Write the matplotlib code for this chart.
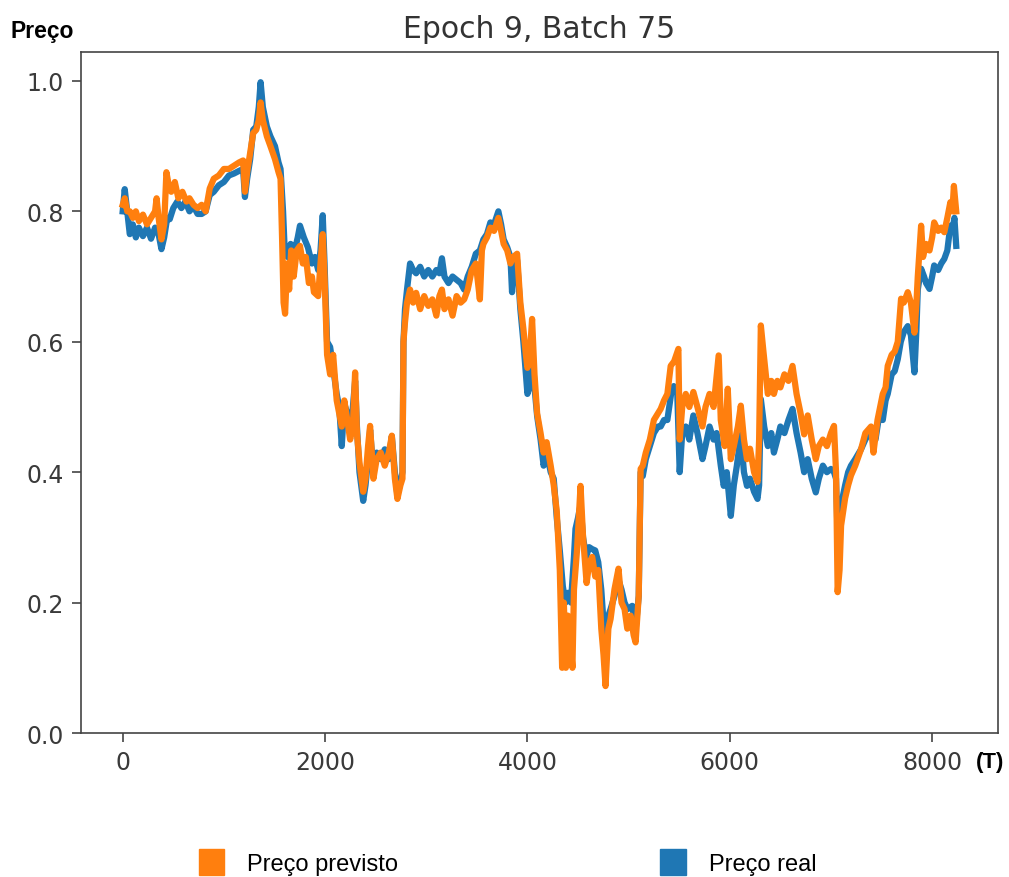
import matplotlib
matplotlib.use('Agg')
import matplotlib.pyplot as plt
from matplotlib.patches import Patch

# series values (T, price)
t_real = [0, 20, 45, 70, 100, 130, 160, 200, 240, 280, 320, 355, 383, 410, 440, 465,
          500, 540, 580, 620, 660, 700, 740, 780, 820, 860, 900, 950, 1000, 1050, 1100,
          1150, 1190, 1208, 1230, 1260, 1290, 1320, 1345, 1363, 1385, 1425, 1460, 1505,
          1540, 1560, 1585, 1600, 1630, 1660, 1700, 1730, 1752, 1790, 1830, 1870, 1900,
          1932, 1955, 1977, 1995, 2020, 2050, 2080, 2115, 2140, 2165, 2190, 2220, 2248,
          2275, 2297, 2315, 2340, 2377, 2400, 2425, 2445, 2478, 2510, 2550, 2590, 2630,
          2660, 2690, 2715, 2745, 2765, 2775, 2790, 2810, 2840, 2870, 2900, 2940, 2980,
          3020, 3060, 3100, 3130, 3155, 3180, 3220, 3260, 3300, 3340, 3375, 3410, 3450,
          3490, 3530, 3565, 3600, 3634, 3670, 3713, 3740, 3765, 3800, 3832, 3848, 3870,
          3898, 3930, 3960, 3985, 4000, 4020, 4046, 4070, 4096, 4130, 4160, 4190, 4230,
          4260, 4290, 4320, 4350, 4376, 4400, 4430, 4460, 4475, 4500, 4525, 4550, 4580,
          4610, 4640, 4670, 4700, 4730, 4752, 4780, 4800, 4822, 4860, 4900, 4930, 4960,
          4990, 5036, 5070, 5100, 5119, 5140, 5170, 5210, 5250, 5290, 5317, 5350, 5383,
          5420, 5446, 5480, 5505, 5530, 5565, 5600, 5640, 5680, 5730, 5760, 5800, 5840,
          5870, 5911, 5940, 5970, 6010, 6040, 6070, 6109, 6140, 6170, 6200, 6240, 6274,
          6290, 6307, 6340, 6376, 6410, 6436, 6470, 6500, 6540, 6580, 6620, 6660, 6700,
          6735, 6770, 6810, 6850, 6880, 6920, 6960, 7000, 7030, 7050, 7066, 7085, 7100,
          7140, 7170, 7198, 7240, 7297, 7340, 7396, 7440, 7480, 7512, 7540, 7561, 7600,
          7630, 7660, 7690, 7720, 7759, 7790, 7825, 7845, 7858, 7891, 7920, 7940, 7974,
          8000, 8020, 8060, 8090, 8120, 8150, 8180, 8200, 8220, 8238]
real = [0.80, 0.834, 0.80, 0.765, 0.78, 0.76, 0.775, 0.762, 0.775, 0.758, 0.775, 0.765,
        0.742, 0.76, 0.79, 0.788, 0.805, 0.815, 0.805, 0.815, 0.80, 0.808, 0.796, 0.796,
        0.80, 0.825, 0.83, 0.84, 0.845, 0.855, 0.858, 0.862, 0.865, 0.822, 0.85, 0.88,
        0.925, 0.93, 0.96, 0.998, 0.96, 0.93, 0.915, 0.90, 0.875, 0.865, 0.80, 0.745,
        0.73, 0.75, 0.74, 0.76, 0.778, 0.76, 0.745, 0.72, 0.73, 0.71, 0.74, 0.794, 0.72,
        0.60, 0.592, 0.56, 0.52, 0.50, 0.44, 0.505, 0.49, 0.462, 0.50, 0.54, 0.47, 0.40,
        0.356, 0.38, 0.42, 0.465, 0.40, 0.43, 0.42, 0.435, 0.42, 0.455, 0.40, 0.365,
        0.385, 0.40, 0.60, 0.65, 0.68, 0.72, 0.71, 0.705, 0.715, 0.70, 0.71, 0.70, 0.71,
        0.705, 0.728, 0.70, 0.69, 0.70, 0.695, 0.69, 0.68, 0.70, 0.715, 0.735, 0.74,
        0.757, 0.765, 0.783, 0.78, 0.80, 0.78, 0.757, 0.745, 0.73, 0.676, 0.73, 0.725,
        0.65, 0.60, 0.55, 0.52, 0.53, 0.60, 0.53, 0.486, 0.45, 0.41, 0.43, 0.40, 0.39,
        0.33, 0.28, 0.225, 0.20, 0.215, 0.20, 0.27, 0.313, 0.33, 0.35, 0.30, 0.27, 0.285,
        0.282, 0.28, 0.262, 0.22, 0.17, 0.14, 0.18, 0.19, 0.21, 0.235, 0.22, 0.20, 0.19,
        0.195, 0.16, 0.21, 0.40, 0.394, 0.42, 0.44, 0.46, 0.47, 0.47, 0.48, 0.48, 0.52,
        0.532, 0.525, 0.40, 0.46, 0.47, 0.45, 0.487, 0.46, 0.42, 0.44, 0.47, 0.45, 0.46,
        0.41, 0.379, 0.40, 0.333, 0.38, 0.41, 0.457, 0.40, 0.379, 0.39, 0.37, 0.359,
        0.38, 0.512, 0.47, 0.44, 0.46, 0.43, 0.45, 0.47, 0.46, 0.48, 0.497, 0.46, 0.43,
        0.40, 0.42, 0.39, 0.369, 0.39, 0.41, 0.40, 0.405, 0.40, 0.39, 0.30, 0.30, 0.35,
        0.38, 0.40, 0.41, 0.42, 0.435, 0.45, 0.465, 0.45, 0.49, 0.48, 0.51, 0.52, 0.55,
        0.555, 0.573, 0.60, 0.615, 0.624, 0.61, 0.553, 0.62, 0.68, 0.712, 0.70, 0.69,
        0.681, 0.70, 0.717, 0.71, 0.72, 0.727, 0.74, 0.778, 0.77, 0.79, 0.747]

t_pred = [0, 20, 45, 70, 100, 130, 160, 200, 240, 280, 320, 335, 355, 383, 410, 432,
          455, 480, 515, 550, 590, 630, 660, 700, 740, 780, 820, 860, 900, 950, 1000,
          1050, 1100, 1150, 1190, 1208, 1230, 1260, 1290, 1320, 1345, 1363, 1385, 1425,
          1460, 1505, 1540, 1560, 1575, 1590, 1605, 1625, 1645, 1665, 1690, 1720, 1752,
          1780, 1810, 1840, 1870, 1890, 1932, 1955, 1977, 1995, 2020, 2050, 2080, 2115,
          2140, 2165, 2190, 2220, 2248, 2275, 2297, 2315, 2340, 2377, 2400, 2425, 2445,
          2478, 2510, 2550, 2590, 2630, 2660, 2690, 2715, 2745, 2765, 2775, 2790, 2810,
          2840, 2870, 2900, 2940, 2980, 3020, 3060, 3100, 3130, 3155, 3180, 3220, 3260,
          3300, 3340, 3375, 3410, 3450, 3490, 3530, 3550, 3565, 3600, 3634, 3670, 3713,
          3740, 3765, 3800, 3832, 3860, 3898, 3930, 3960, 3985, 4000, 4020, 4046, 4070,
          4096, 4130, 4160, 4190, 4230, 4260, 4290, 4320, 4343, 4360, 4380, 4400, 4430,
          4445, 4460, 4490, 4525, 4550, 4585, 4610, 4640, 4670, 4700, 4730, 4752, 4772,
          4800, 4822, 4860, 4900, 4930, 4960, 4987, 5020, 5050, 5069, 5100, 5119, 5140,
          5170, 5210, 5250, 5290, 5317, 5350, 5383, 5416, 5450, 5492, 5505, 5530, 5565,
          5600, 5640, 5680, 5730, 5760, 5800, 5840, 5890, 5911, 5950, 5980, 6010, 6040,
          6080, 6109, 6140, 6170, 6200, 6240, 6274, 6290, 6307, 6330, 6376, 6410, 6436,
          6470, 6500, 6540, 6580, 6620, 6660, 6700, 6735, 6770, 6810, 6850, 6880, 6920,
          6960, 7000, 7030, 7050, 7066, 7085, 7100, 7140, 7170, 7198, 7240, 7297, 7340,
          7396, 7420, 7460, 7512, 7540, 7561, 7600, 7630, 7660, 7693, 7720, 7759, 7790,
          7825, 7845, 7858, 7891, 7910, 7940, 7974, 8000, 8020, 8060, 8090, 8120, 8150,
          8180, 8200, 8215, 8238]
pred = [0.81, 0.82, 0.80, 0.80, 0.79, 0.80, 0.785, 0.795, 0.78, 0.79, 0.80, 0.82, 0.79,
        0.757, 0.78, 0.86, 0.84, 0.83, 0.845, 0.82, 0.83, 0.815, 0.82, 0.81, 0.805, 0.81,
        0.80, 0.835, 0.85, 0.855, 0.865, 0.865, 0.87, 0.875, 0.878, 0.83, 0.86, 0.89,
        0.92, 0.925, 0.94, 0.967, 0.94, 0.915, 0.90, 0.88, 0.86, 0.85, 0.76, 0.66, 0.643,
        0.72, 0.68, 0.74, 0.70, 0.74, 0.747, 0.72, 0.73, 0.69, 0.70, 0.676, 0.67, 0.72,
        0.765, 0.70, 0.58, 0.55, 0.58, 0.51, 0.49, 0.47, 0.51, 0.48, 0.45, 0.47, 0.553,
        0.46, 0.415, 0.37, 0.39, 0.44, 0.471, 0.39, 0.42, 0.43, 0.41, 0.43, 0.456, 0.39,
        0.359, 0.38, 0.39, 0.60, 0.63, 0.66, 0.68, 0.66, 0.675, 0.65, 0.67, 0.655, 0.665,
        0.64, 0.67, 0.68, 0.65, 0.665, 0.64, 0.67, 0.66, 0.665, 0.68, 0.71, 0.72, 0.665,
        0.74, 0.75, 0.76, 0.775, 0.77, 0.79, 0.77, 0.75, 0.74, 0.72, 0.73, 0.735, 0.66,
        0.62, 0.58, 0.56, 0.57, 0.635, 0.55, 0.49, 0.46, 0.43, 0.446, 0.41, 0.38, 0.34,
        0.25, 0.10, 0.20, 0.10, 0.18, 0.13, 0.10, 0.22, 0.28, 0.379, 0.30, 0.23, 0.26,
        0.27, 0.24, 0.25, 0.16, 0.12, 0.072, 0.16, 0.175, 0.22, 0.252, 0.20, 0.19, 0.16,
        0.18, 0.15, 0.139, 0.21, 0.405, 0.41, 0.43, 0.45, 0.48, 0.49, 0.497, 0.51, 0.52,
        0.563, 0.57, 0.589, 0.45, 0.50, 0.52, 0.50, 0.523, 0.50, 0.47, 0.50, 0.52, 0.50,
        0.579, 0.48, 0.44, 0.528, 0.42, 0.44, 0.47, 0.502, 0.45, 0.42, 0.436, 0.40, 0.385,
        0.45, 0.625, 0.589, 0.52, 0.54, 0.52, 0.54, 0.53, 0.55, 0.54, 0.563, 0.52, 0.49,
        0.458, 0.487, 0.45, 0.42, 0.44, 0.45, 0.44, 0.46, 0.471, 0.40, 0.216, 0.25, 0.318,
        0.36, 0.38, 0.395, 0.41, 0.435, 0.46, 0.47, 0.43, 0.48, 0.52, 0.53, 0.563, 0.58,
        0.585, 0.60, 0.666, 0.66, 0.676, 0.66, 0.614, 0.66, 0.70, 0.778, 0.73, 0.75, 0.74,
        0.76, 0.783, 0.77, 0.775, 0.768, 0.79, 0.814, 0.80, 0.839, 0.80]

fig = plt.figure(figsize=(10.09, 8.78), dpi=100)
ax = fig.add_axes([0.0803, 0.164, 0.9087, 0.7756])

ax.plot(t_real, real, color='#1f77b4', linewidth=4.5, solid_joinstyle='round')
ax.plot(t_pred, pred, color='#ff7f0e', linewidth=4.5, solid_joinstyle='round')
ax.set_ylim(bottom=0)
ax.set_xticks([0, 2000, 4000, 6000, 8000])
ax.set_yticks([0.0, 0.2, 0.4, 0.6, 0.8, 1.0])
ax.tick_params(labelsize=17, labelcolor='#3a3a3a', length=6.5, width=1.2,
               pad=6, color='#444444')
for s in ax.spines.values():
    s.set_color('#444444')
    s.set_linewidth(1.2)
ax.set_title("Epoch 9, Batch 75", fontsize=21.5, color='#333333', pad=11)

fig.text(0.010, 0.9567, "Preço", fontsize=16.5, fontweight='bold',
         family='Liberation Sans', va='baseline', ha='left')
fig.text(0.967, 0.132, "(T)", fontsize=16, fontweight='bold',
         family='Liberation Sans', va='center', ha='left')

handles = [Patch(color='#ff7f0e', label='Preço previsto'),
           Patch(color='#1f77b4', label='Preço real')]
fig.legend(handles=handles, loc='center left', bbox_to_anchor=(0.197, 0.017),
           ncol=2, frameon=False, borderpad=0, borderaxespad=0,
           prop={'family': 'Liberation Sans', 'size': 17},
           handlelength=1.08, handleheight=1.285, handletextpad=0.97,
           columnspacing=11.1)

fig.savefig('out.png', dpi=100)
